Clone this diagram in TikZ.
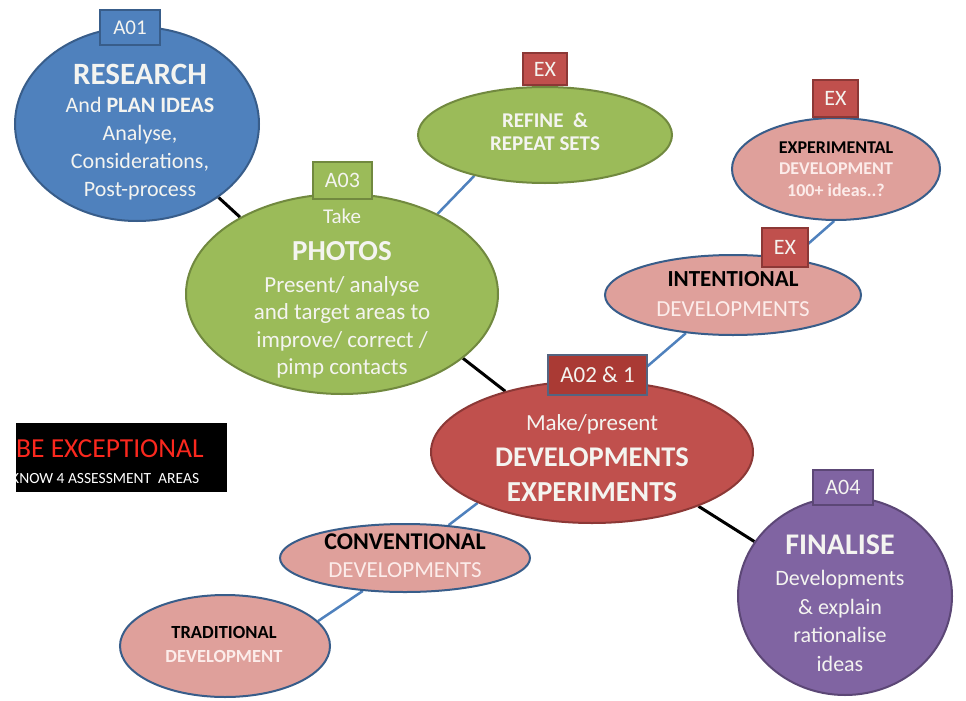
\documentclass[tikz,border=0pt]{standalone}
\usepackage{fontspec}
\setmainfont{Carlito}
\usetikzlibrary{shapes.geometric,backgrounds}
\definecolor{blueF}{RGB}{79,129,189}
\definecolor{blueD}{RGB}{56,93,138}
\definecolor{greenF}{RGB}{155,187,89}
\definecolor{greenD}{RGB}{113,137,63}
\definecolor{redF}{RGB}{192,80,77}
\definecolor{redD}{RGB}{140,56,54}
\definecolor{pinkF}{RGB}{223,160,155}
\definecolor{purpF}{RGB}{128,100,162}
\definecolor{purpD}{RGB}{92,71,118}
\definecolor{boxred}{RGB}{170,58,52}
\definecolor{boxredD}{RGB}{84,100,128}
\definecolor{txtW}{RGB}{244,244,240}
\definecolor{pinkW}{RGB}{252,236,234}
\definecolor{exred}{RGB}{250,40,30}
\newcommand{\fsz}[2]{\fontsize{#1}{#2}\selectfont}
\begin{document}
\begin{tikzpicture}[x=1pt,y=-1pt,
  oval/.style={ellipse, draw, line width=2pt, inner sep=0pt},
  txt/.style={align=center, text=txtW, inner sep=0pt},
  tag/.style={draw, line width=1.5pt, text=txtW, inner sep=0pt},
  conn/.style={line width=3pt, black},
  link/.style={line width=2.5pt, blueF}]
\useasboundingbox (0,0) rectangle (966,701);

% ellipses
\node[oval, fill=blueF, draw=blueD, minimum width=244, minimum height=194] (research) at (137,124) {};
\node[oval, fill=greenF, draw=greenD, minimum width=254, minimum height=96] (refine) at (545,135) {};
\node[oval, fill=greenF, draw=greenD, minimum width=312, minimum height=200] (photos) at (342,294) {};
\node[oval, fill=pinkF, draw=blueD, minimum width=208, minimum height=102] (exper) at (836,169) {};
\node[oval, fill=pinkF, draw=blueD, minimum width=256, minimum height=80] (intent) at (733,295) {};
\node[oval, fill=redF, draw=redD, minimum width=322, minimum height=142] (dev) at (592,452) {};
\node[oval, fill=pinkF, draw=blueD, minimum width=250, minimum height=68] (conv) at (405,558) {};
\node[oval, fill=pinkF, draw=blueD, minimum width=210, minimum height=102] (trad) at (225,646) {};
\node[oval, fill=purpF, draw=purpD, minimum width=214, minimum height=198] (final) at (845,596) {};

% texts
\node[txt, font=\fsz{22}{28}] (restxt) at (140,132)
  {{\fsz{31}{30}\bfseries RESEARCH}\\And \textbf{PLAN IDEAS}\\Analyse,\\Considerations,\\Post-process};
\node[txt, font=\fsz{21}{22.5}\bfseries] (reftxt) at (545,132) {REFINE~~\&\\REPEAT SETS};
\node[txt, font=\fsz{23}{27.5}] (phtxt) at (342,293.5)
  {{\fsz{21}{21}Take}\\[9.5pt]{\fsz{29}{29}\bfseries PHOTOS}\\[4.5pt]Present/ analyse\\and target areas to\\improve/ correct /\\pimp contacts};
\node[txt, font=\fsz{18}{21.5}\bfseries, text=pinkW] (extxt) at (836,169)
  {\textcolor{black}{EXPERIMENTAL}\\DEVELOPMENT\\100+ ideas..?};
\node[txt, font=\fsz{23}{30}, text=pinkW] (inttxt) at (733,294.5)
  {\textcolor{black}{\bfseries INTENTIONAL}\\DEVELOPMENTS};
\node[txt, font=\fsz{23}{36}] (devtxt) at (592,458)
  {Make/present\\{\fsz{28.5}{35}\bfseries DEVELOPMENTS}\\[-1pt]{\fsz{29}{35}\bfseries EXPERIMENTS}};
\node[txt, font=\fsz{23}{28}, text=pinkW] (convtxt) at (405,556)
  {\textcolor{black}{\fsz{24}{28}\bfseries CONVENTIONAL}\\DEVELOPMENTS};
\node[txt, font=\fsz{18.5}{24}\bfseries, text=pinkW] (tradtxt) at (224,644)
  {\textcolor{black}{TRADITIONAL}\\DEVELOPMENT};
\node[txt, font=\fsz{22}{28.5}] (fintxt) at (840,603)
  {{\fsz{30}{30}\bfseries FINALISE}\\[2.5pt]Developments\\\& explain\\rationalise\\ideas};

% tags
\node[tag, fill=blueF, draw=blueD, minimum width=60, minimum height=35, font=\fsz{21}{21}] (a01) at (130,27.5) {A01};
\node[tag, fill=redF, draw=redD, minimum width=44, minimum height=32, font=\fsz{22}{22}] (ex1) at (545,69) {EX};
\node[tag, fill=redF, draw=redD, minimum width=45, minimum height=37, font=\fsz{22}{22}] (ex2) at (835.5,98.5) {EX};
\node[tag, fill=redF, draw=redD, minimum width=46, minimum height=39, font=\fsz{22}{22}] (ex3) at (785,247.5) {EX};
\node[tag, fill=greenF, draw=greenD, minimum width=59, minimum height=37, font=\fsz{22}{22}] (a03) at (342.5,180.5) {A03};
\node[tag, fill=boxred, draw=boxredD, minimum width=99, minimum height=40, font=\fsz{23}{23}] (a02) at (597.5,375) {A02 \& 1};
\node[tag, fill=purpF, draw=purpD, minimum width=60, minimum height=35, font=\fsz{22}{22}] (a04) at (843,487.5) {A04};

% BE EXCEPTIONAL box
\node[fill=black, minimum width=211, minimum height=69, inner sep=0pt, anchor=north west] (bebox) at (16,423) {};
\begin{scope}
  \clip (bebox.north west) rectangle (bebox.south east);
  \node[anchor=west, text=exred, inner sep=0pt, font=\fsz{27.5}{30}] (be) at (16,449) {BE EXCEPTIONAL};
  \node[anchor=west, text=white, inner sep=0pt, font=\fsz{15.5}{16}] (know) at (11,479) {KNOW 4 ASSESSMENT~~AREAS};
\end{scope}

% connectors
\begin{pgfonlayer}{background}
  \fill[white] (0,0) rectangle (966,701);
  \draw[conn] (research.-42) -- (photos.143);
  \draw[conn] (photos.-28) -- (dev.145);
  \draw[conn] (dev.-27) -- (final.149);
  \draw[link] (photos.40) -- (refine.210);
  \draw[link] (dev.62) -- (intent.219);
  \draw[link] (intent.32) -- (exper.268);
  \draw[link] (dev.204) -- (conv.37);
  \draw[link] (conv.218) -- (trad.15);
\end{pgfonlayer}
\end{tikzpicture}
\end{document}
